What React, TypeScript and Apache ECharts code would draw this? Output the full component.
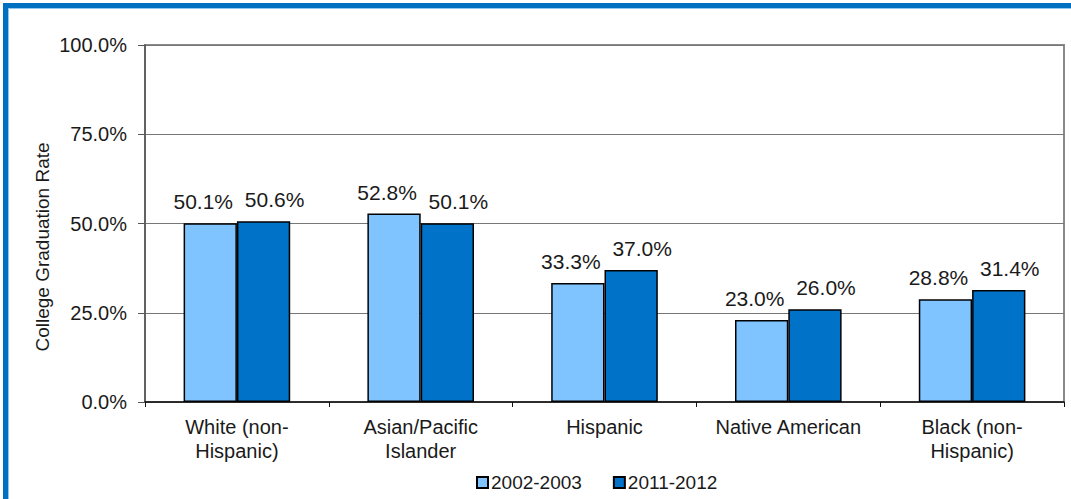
import React, { useEffect, useRef } from "react";
import * as echarts from "echarts";

const categories = [
  "White (non-\nHispanic)",
  "Asian/Pacific\nIslander",
  "Hispanic",
  "Native American",
  "Black (non-\nHispanic)",
];
const series2002 = [50.1, 52.8, 33.3, 23.0, 28.8];
const series2011 = [50.6, 50.1, 37.0, 26.0, 31.4];
const seriesNames = ["2002-2003", "2011-2012"];
const yTicks = { min: 0, max: 100, interval: 25 };
const yTitle = "College Graduation Rate";

const FONT = "'Liberation Sans', Arial, sans-serif";
const TXT = "#1a1a1a";

export default function App() {
  const ref = useRef<HTMLDivElement>(null);
  useEffect(() => {
    if (!ref.current) return;
    const chart = echarts.init(ref.current, null, { renderer: "svg" });
    const labelCfg = (dx: number) => ({
      show: true,
      position: "top",
      distance: 11,
      offset: [dx, 0],
      fontSize: 21,
      fontFamily: FONT,
      color: TXT,
      formatter: (p: any) => Number(p.value).toFixed(1) + "%",
    });
    chart.setOption({
      animation: false,
      backgroundColor: "#fff",
      textStyle: { fontFamily: FONT },
      grid: {
        left: 145,
        right: 7,
        top: 45,
        bottom: 97,
        show: true,
        borderColor: "#8a8a8a",
        borderWidth: 2,
        backgroundColor: "transparent",
      },
      legend: {
        left: 471,
        top: 468,
        itemWidth: 11,
        itemHeight: 11,
        itemGap: 31,
        icon: "rect",
        textStyle: { fontSize: 19, color: TXT, fontFamily: FONT, padding: [0, 0, 0, -2] },
        data: seriesNames,
      },
      xAxis: {
        type: "category",
        data: categories,
        axisLine: { show: true, lineStyle: { color: "#111", width: 1.5 } },
        axisTick: { show: true, alignWithLabel: false, length: 5, lineStyle: { color: "#111" } },
        axisLabel: {
          fontSize: 20,
          lineHeight: 24,
          color: TXT,
          fontFamily: FONT,
          margin: 13,
          interval: 0,
        },
      },
      yAxis: {
        type: "value",
        min: yTicks.min,
        max: yTicks.max,
        interval: yTicks.interval,
        axisLine: { show: true, lineStyle: { color: "#555", width: 1.5 } },
        axisTick: { show: true, length: 7, lineStyle: { color: "#555" } },
        axisLabel: {
          fontSize: 20,
          color: TXT,
          fontFamily: FONT,
          margin: 18,
          formatter: (v: number) => v.toFixed(1) + "%",
        },
        splitLine: { show: true, lineStyle: { color: "#777", width: 1 } },
      },
      series: [
        {
          name: seriesNames[0],
          type: "bar",
          data: series2002,
          barGap: "0%",
          barCategoryGap: "42%",
          itemStyle: { color: "#80C4FF", borderColor: "#000", borderWidth: 1.5 },
          label: labelCfg(-7),
        },
        {
          name: seriesNames[1],
          type: "bar",
          data: series2011,
          barGap: "0%",
          barCategoryGap: "42%",
          itemStyle: { color: "#0072C8", borderColor: "#000", borderWidth: 1.5 },
          label: labelCfg(11),
        },
      ],
      graphic: [
        {
          type: "text",
          x: 42,
          y: 247,
          rotation: Math.PI / 2,
          style: {
            text: yTitle,
            fontSize: 19,
            fontFamily: FONT,
            fill: TXT,
            align: "center",
            verticalAlign: "middle",
          },
        },
        { type: "rect", z: 100, shape: { x: 3, y: 3, width: 1068, height: 5 }, style: { fill: "#0070C0" } },
        { type: "rect", z: 100, shape: { x: 3, y: 3, width: 5, height: 496 }, style: { fill: "#0070C0" } },
        { type: "rect", z: 100, shape: { x: 8, y: 8, width: 1063, height: 1 }, style: { fill: "#8EC8F0" } },
        { type: "rect", z: 100, shape: { x: 8, y: 8, width: 1, height: 491 }, style: { fill: "#8EC8F0" } },
      ],
    });
    return () => chart.dispose();
  }, []);
  return (
    <div
      ref={ref}
      style={{ position: "fixed", left: 0, top: 0, width: 1071, height: 499, background: "#fff" }}
    />
  );
}
